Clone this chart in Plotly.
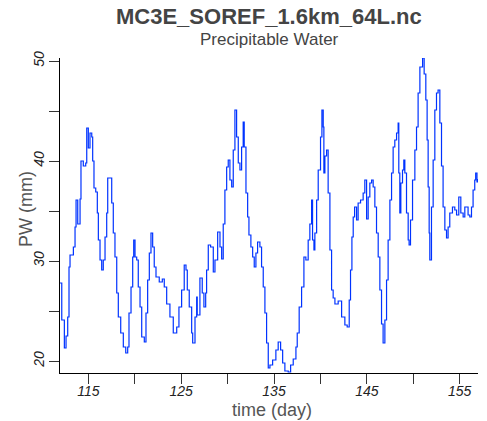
import plotly.graph_objects as go

# time (day) and precipitable water (mm)
day = [111.95, 112.14, 112.42, 112.6, 112.78, 112.92, 113.03, 113.39, 113.57, 113.68, 113.86, 114.03,
       114.11, 114.21, 114.46, 114.72, 114.83, 115.0, 115.18, 115.37, 115.47, 115.61, 115.8, 115.97,
       116.08, 116.26, 116.44, 116.61, 116.8, 116.98, 117.09, 117.34, 117.52, 117.69, 117.87, 118.06,
       118.23, 118.49, 118.77, 119.03, 119.24, 119.38, 119.6, 119.78, 119.89, 120.03, 120.21, 120.38,
       120.57, 120.75, 121.03, 121.21, 121.39, 121.57, 121.75, 121.93, 122.1, 122.29, 122.64, 122.97,
       123.18, 123.44, 123.79, 124.15, 124.52, 124.76, 125.05, 125.33, 125.52, 125.66, 125.87, 126.13,
       126.24, 126.49, 126.67, 126.73, 127.02, 127.27, 127.45, 127.64, 127.74, 127.92, 128.17, 128.46,
       128.64, 128.93, 129.18, 129.36, 129.53, 129.71, 129.9, 130.07, 130.25, 130.44, 130.61, 130.79,
       130.97, 131.15, 131.33, 131.51, 131.68, 131.79, 131.98, 132.16, 132.3, 132.51, 132.7, 132.87,
       133.05, 133.23, 133.48, 133.66, 133.84, 134.02, 134.2, 134.38, 134.56, 134.85, 135.2, 135.45,
       135.71, 135.93, 136.17, 136.53, 136.79, 137.07, 137.36, 137.5, 137.71, 137.97, 138.22, 138.43,
       138.57, 138.68, 138.86, 139.05, 139.15, 139.3, 139.4, 139.59, 139.76, 140.01, 140.16, 140.3,
       140.37, 140.48, 140.66, 140.83, 141.02, 141.2, 141.37, 141.56, 141.91, 142.28, 142.63, 142.88,
       143.1, 143.24, 143.39, 143.53, 143.68, 143.89, 144.06, 144.32, 144.6, 144.78, 144.97, 145.14,
       145.32, 145.51, 145.68, 145.86, 146.04, 146.22, 146.4, 146.58, 146.75, 146.94, 147.12, 147.29,
       147.48, 147.66, 147.83, 148.01, 148.2, 148.37, 148.44, 148.55, 148.66, 148.84, 148.98, 149.09,
       149.27, 149.45, 149.55, 149.7, 149.92, 150.17, 150.35, 150.52, 150.71, 151.0, 151.17, 151.35,
       151.49, 151.6, 151.71, 151.78, 151.96, 152.14, 152.32, 152.5, 152.67, 152.86, 153.04, 153.21,
       153.4, 153.58, 153.75, 153.93, 154.22, 154.47, 154.66, 154.9, 155.12, 155.37, 155.55, 155.73,
       155.9, 156.09, 156.27, 156.44, 156.62, 156.72, 156.86, 156.97]
pw = [27.8, 24.1, 21.3, 22.5, 24.4, 29.4, 30.6, 31.4, 33.4, 36.1, 33.7, 33.7,
      36.2, 40.0, 39.5, 39.8, 43.3, 41.3, 42.8, 42.4, 40.0, 37.3, 36.9, 34.8,
      32.1, 30.1, 29.1, 30.1, 32.4, 34.8, 38.3, 38.3, 35.8, 32.8, 30.4, 26.8,
      24.4, 22.8, 21.4, 20.8, 21.4, 24.8, 27.4, 30.4, 32.1, 30.4, 30.1, 27.4,
      25.4, 22.4, 21.9, 24.8, 28.1, 30.8, 32.8, 31.4, 29.4, 28.4, 27.9, 28.2,
      27.4, 25.7, 24.4, 22.8, 23.4, 25.4, 27.1, 29.6, 29.1, 27.1, 25.4, 22.8,
      21.8, 24.4, 26.4, 24.6, 28.3, 26.8, 25.4, 26.8, 29.1, 31.6, 31.4, 28.9,
      30.1, 32.9, 31.4, 30.2, 33.7, 37.1, 39.4, 40.1, 38.1, 37.4, 41.1, 45.1,
      42.4, 39.8, 39.1, 41.4, 43.9, 41.4, 36.8, 34.4, 32.6, 31.4, 30.4, 29.4,
      30.8, 31.9, 31.4, 29.4, 27.4, 24.8, 21.8, 19.3, 19.6, 20.1, 21.1, 21.9,
      21.1, 19.8, 19.0, 18.9, 19.6, 20.2, 21.4, 22.8, 25.4, 27.4, 30.4, 30.1,
      30.1, 32.1, 33.7, 36.1, 32.1, 31.1, 32.8, 36.1, 39.1, 42.4, 45.1, 43.4,
      38.8, 40.5, 41.1, 36.8, 31.1, 27.1, 26.3, 25.7, 26.0, 24.4, 23.6, 23.4,
      26.1, 29.1, 32.4, 34.4, 35.4, 34.1, 35.8, 36.1, 36.8, 38.1, 34.2, 36.4,
      37.8, 38.1, 37.4, 35.4, 32.8, 30.4, 27.1, 23.7, 21.8, 24.1, 28.1, 32.1,
      36.1, 38.8, 41.4, 42.1, 42.8, 43.8, 38.8, 34.8, 37.8, 39.1, 40.1, 38.8,
      34.8, 32.1, 31.6, 34.1, 38.1, 41.1, 43.4, 46.8, 49.4, 50.3, 48.7, 46.1,
      42.1, 37.4, 32.8, 30.1, 35.4, 40.1, 45.1, 46.8, 47.1, 43.8, 39.5, 35.4,
      33.1, 32.3, 33.4, 34.8, 35.4, 35.1, 34.6, 36.4, 34.8, 34.4, 35.4, 35.4,
      34.6, 34.4, 35.4, 37.1, 38.1, 38.8, 37.9, 38.2]

x_tickvals = [115, 120, 125, 130, 135, 140, 145, 150, 155]
x_ticktext = ["115", "", "125", "", "135", "", "145", "", "155"]
y_tickvals = [20, 25, 30, 35, 40, 45, 50]
y_ticktext = ["20", "", "30", "", "40", "", "50"]

FONT = "Liberation Sans, Arial, Helvetica, sans-serif"
PLOT_TOP, PLOT_BOTTOM, PLOT_LEFT, PLOT_RIGHT = 58, 373, 60, 478
PH = PLOT_BOTTOM - PLOT_TOP
PW_ = PLOT_RIGHT - PLOT_LEFT


def py(pix):
    return (PLOT_BOTTOM - pix) / PH


def px(pix):
    return (pix - PLOT_LEFT) / PW_


fig = go.Figure()
fig.add_trace(go.Scatter(x=day, y=pw, mode="lines",
                         line=dict(color="#0033ff", width=1.2, shape="hv"),
                         showlegend=False, hoverinfo="skip"))

fig.update_layout(
    width=487, height=421,
    margin=dict(l=PLOT_LEFT, r=487 - PLOT_RIGHT, t=PLOT_TOP, b=421 - PLOT_BOTTOM, autoexpand=False),
    paper_bgcolor="white", plot_bgcolor="white",
    font=dict(family=FONT, color="#444"),
    xaxis=dict(range=[111.95, 156.97], showgrid=False, zeroline=False, automargin=False,
               showline=True, linecolor="black", linewidth=1,
               ticks="outside", ticklen=10, tickwidth=1, tickcolor="#333",
               tickvals=x_tickvals, ticktext=x_ticktext, ticklabelstandoff=-5,
               tickfont=dict(family=FONT, size=14, color="#222", style="italic")),
    yaxis=dict(range=[18.8, 50.3], showgrid=False, zeroline=False, automargin=False,
               showline=True, linecolor="black", linewidth=1,
               ticks="outside", ticklen=10, tickwidth=1, tickcolor="#333",
               tickvals=y_tickvals, ticktext=y_ticktext, tickangle=-90, ticklabelstandoff=-1,
               tickfont=dict(family=FONT, size=14, color="#222", style="italic")),
    annotations=[
        dict(text="<b>MC3E_SOREF_1.6km_64L.nc</b>", xref="paper", yref="paper",
             x=0.5, y=py(16.5), xanchor="center", yanchor="middle",
             showarrow=False, font=dict(family=FONT, size=22, color="#444")),
        dict(text="Precipitable Water", xref="paper", yref="paper",
             x=0.5, y=py(39), xanchor="center", yanchor="middle",
             showarrow=False, font=dict(family=FONT, size=17, color="#444")),
        dict(text="time (day)", xref="paper", yref="paper",
             x=px(271.5), y=py(410), xanchor="center", yanchor="middle",
             showarrow=False, font=dict(family=FONT, size=18, color="#555")),
        dict(text="PW (mm)", xref="paper", yref="paper", textangle=-90,
             x=px(25.5), y=py(209.5), xanchor="center", yanchor="middle",
             showarrow=False, font=dict(family=FONT, size=18, color="#555")),
    ],
)

fig.write_html("out.html")
